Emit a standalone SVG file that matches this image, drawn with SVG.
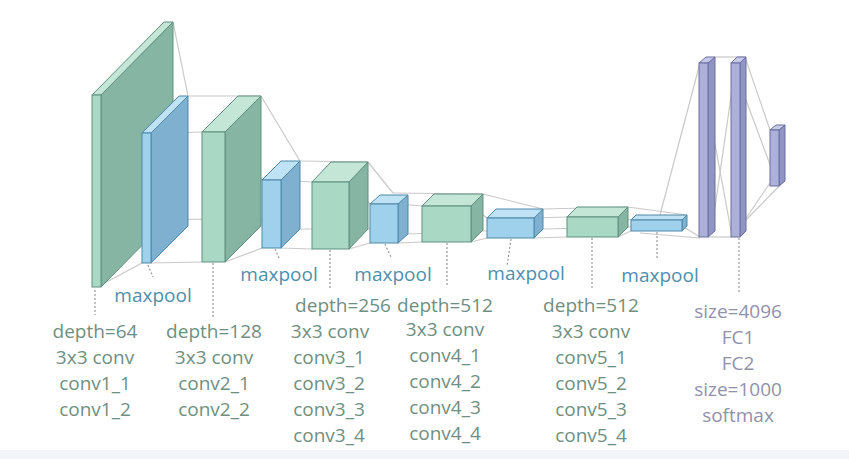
<svg xmlns="http://www.w3.org/2000/svg" width="849" height="459" viewBox="0 0 849 459">
<style>
.gf{fill:#a9d9c5;stroke:#5f8f80;stroke-width:1}
.gt{fill:#c3e6d6;stroke:#5f8f80;stroke-width:1}
.gs{fill:#86b6a3;stroke:#5f8f80;stroke-width:1}
.bf{fill:#9fd1ec;stroke:#4c88a8;stroke-width:1}
.bt{fill:#bfe2f4;stroke:#4c88a8;stroke-width:1}
.bs{fill:#7fb0d0;stroke:#4c88a8;stroke-width:1}
.pf{fill:#adb1da;stroke:#6a6ea0;stroke-width:1}
.pt{fill:#c6c9e8;stroke:#6a6ea0;stroke-width:1}
.ps{fill:#9095c4;stroke:#6a6ea0;stroke-width:1}
.cl{stroke:#c9c9c9;stroke-width:1.2;fill:none}
.ld{stroke:#9a9a9a;stroke-width:1.2;stroke-dasharray:2 2;fill:none}
text{font-family:"Open Sans","Liberation Sans",sans-serif;font-size:19px;text-anchor:middle}
.ct{fill:#6f8f83}
.mp{fill:#4f8fae}
.fc{fill:#9191ab}
</style>
<rect x="0" y="0" width="849" height="459" fill="#ffffff"/>
<rect x="0" y="450" width="849" height="9" fill="#f1f5fa"/>
<g id="connectors">
<!-- conv1 -> pool1 -->
<line class="cl" x1="173" y1="22" x2="188" y2="96"/>
<line class="cl" x1="101" y1="103" x2="142" y2="133"/>
<line class="cl" x1="101" y1="285" x2="142" y2="263"/>
<line class="cl" x1="173" y1="214" x2="188" y2="226"/>
<!-- pool1 -> conv2 -->
<line class="cl" x1="188" y1="96" x2="261" y2="96"/>
<line class="cl" x1="151" y1="133" x2="202" y2="132"/>
<line class="cl" x1="151" y1="263" x2="202" y2="262"/>
<line class="cl" x1="168" y1="219" x2="261" y2="220"/>
<!-- conv2 -> pool2 -->
<line class="cl" x1="261" y1="96" x2="300" y2="161"/>
<line class="cl" x1="225" y1="132" x2="262" y2="180"/>
<line class="cl" x1="225" y1="262" x2="262" y2="248"/>
<line class="cl" x1="261" y1="220" x2="300" y2="229"/>
<!-- pool2 -> conv3 -->
<line class="cl" x1="300" y1="161" x2="368" y2="162"/>
<line class="cl" x1="281" y1="180" x2="312" y2="182"/>
<line class="cl" x1="281" y1="248" x2="312" y2="249"/>
<line class="cl" x1="300" y1="229" x2="368" y2="229"/>
<!-- conv3 -> pool3 -->
<line class="cl" x1="368" y1="162" x2="393" y2="193"/>
<line class="cl" x1="349" y1="182" x2="370" y2="204"/>
<line class="cl" x1="349" y1="249" x2="370" y2="243"/>
<line class="cl" x1="368" y1="229" x2="408" y2="234"/>
<!-- pool3 -> conv4 -->
<line class="cl" x1="393" y1="193" x2="483" y2="194"/>
<line class="cl" x1="398" y1="204" x2="422" y2="206"/>
<line class="cl" x1="398" y1="243" x2="422" y2="242"/>
<line class="cl" x1="408" y1="234" x2="483" y2="231"/>
<!-- conv4 -> pool4 -->
<line class="cl" x1="483" y1="194" x2="543" y2="209"/>
<line class="cl" x1="471" y1="206" x2="487" y2="218"/>
<line class="cl" x1="471" y1="242" x2="487" y2="238"/>
<line class="cl" x1="483" y1="231" x2="543" y2="229"/>
<!-- pool4 -> conv5 -->
<line class="cl" x1="543" y1="209" x2="628" y2="207"/>
<line class="cl" x1="534" y1="218" x2="567" y2="217"/>
<line class="cl" x1="534" y1="238" x2="567" y2="237"/>
<line class="cl" x1="543" y1="229" x2="628" y2="227"/>
<!-- conv5 -> pool5 -->
<line class="cl" x1="628" y1="207" x2="687" y2="215"/>
<line class="cl" x1="618" y1="217" x2="631" y2="220"/>
<line class="cl" x1="618" y1="237" x2="631" y2="231"/>
<line class="cl" x1="628" y1="227" x2="687" y2="226"/>
<!-- pool5 -> FC1 -->
<line class="cl" x1="660" y1="215" x2="700" y2="63"/>
<line class="cl" x1="682" y1="226" x2="700" y2="237"/>
<line class="cl" x1="640" y1="233" x2="700" y2="238"/>
<!-- FC1 -> FC2 -->
<line class="cl" x1="715" y1="57" x2="746" y2="57"/>
<line class="cl" x1="708" y1="237" x2="731" y2="237"/>
<line class="cl" x1="710" y1="117" x2="732" y2="236"/>
<line class="cl" x1="712" y1="228" x2="732" y2="90"/>
<!-- FC2 -> FC3 -->
<line class="cl" x1="746" y1="60" x2="770" y2="130"/>
<line class="cl" x1="746" y1="100" x2="772" y2="170"/>
<line class="cl" x1="740" y1="227" x2="770" y2="183"/>
<line class="cl" x1="746" y1="220" x2="784" y2="181"/>
<!-- leaders -->
<line class="ld" x1="95" y1="290" x2="95" y2="315"/>
<line class="ld" x1="213" y1="263" x2="213" y2="317"/>
<line class="ld" x1="148" y1="265" x2="153" y2="277"/>
<line class="ld" x1="275" y1="249" x2="279" y2="258"/>
<line class="ld" x1="330" y1="250" x2="330" y2="288"/>
<line class="ld" x1="385" y1="244" x2="391" y2="257"/>
<line class="ld" x1="447" y1="243" x2="447" y2="285"/>
<line class="ld" x1="511" y1="239" x2="507" y2="266"/>
<line class="ld" x1="592" y1="238" x2="592" y2="288"/>
<line class="ld" x1="657" y1="232" x2="657" y2="259"/>
<line class="ld" x1="739" y1="238" x2="739" y2="293"/>
</g>
<g id="conv1">
<polygon class="gs" points="101,95 173,22 173,214 101,287"/>
<polygon class="gt" points="92,95 164,22 173,22 101,95"/>
<rect class="gf" x="92" y="95" width="9" height="192"/>
</g>
<g id="pool1">
<polygon class="bs" points="151,133 188,96 188,226 151,263"/>
<polygon class="bt" points="142,133 179,96 188,96 151,133"/>
<rect class="bf" x="142" y="133" width="9" height="130"/>
</g>
<g id="conv2">
<polygon class="gs" points="225,132 261,96 261,226 225,262"/>
<polygon class="gt" points="202,132 238,96 261,96 225,132"/>
<rect class="gf" x="202" y="132" width="23" height="130"/>
</g>
<g id="pool2">
<polygon class="bs" points="281,180 300,161 300,229 281,248"/>
<polygon class="bt" points="262,180 281,161 300,161 281,180"/>
<rect class="bf" x="262" y="180" width="19" height="68"/>
</g>
<g id="conv3">
<polygon class="gs" points="349,182 368,162 368,229 349,249"/>
<polygon class="gt" points="312,182 331,162 368,162 349,182"/>
<rect class="gf" x="312" y="182" width="37" height="67"/>
</g>
<g id="pool3">
<polygon class="bs" points="398,204 408,195 408,234 398,243"/>
<polygon class="bt" points="370,204 380,195 408,195 398,204"/>
<rect class="bf" x="370" y="204" width="28" height="39"/>
</g>
<g id="conv4">
<polygon class="gs" points="471,206 483,194 483,230 471,242"/>
<polygon class="gt" points="422,206 434,194 483,194 471,206"/>
<rect class="gf" x="422" y="206" width="49" height="36"/>
</g>
<g id="pool4">
<polygon class="bs" points="534,218 543,209 543,229 534,238"/>
<polygon class="bt" points="487,218 496,209 543,209 534,218"/>
<rect class="bf" x="487" y="218" width="47" height="20"/>
</g>
<g id="conv5">
<polygon class="gs" points="618,217 628,207 628,227 618,237"/>
<polygon class="gt" points="567,217 577,207 628,207 618,217"/>
<rect class="gf" x="567" y="217" width="51" height="20"/>
</g>
<g id="pool5">
<polygon class="bs" points="682,220 687,215 687,226 682,231"/>
<polygon class="bt" points="631,220 636,215 687,215 682,220"/>
<rect class="bf" x="631" y="220" width="51" height="11"/>
</g>
<g id="fc1">
<polygon class="ps" points="708,63 715,57 715,231 708,237"/>
<polygon class="pt" points="699,63 706,57 715,57 708,63"/>
<rect class="pf" x="699" y="63" width="9" height="174"/>
</g>
<g id="fc2">
<polygon class="ps" points="740,63 746,57 746,231 740,237"/>
<polygon class="pt" points="731,63 737,57 746,57 740,63"/>
<rect class="pf" x="731" y="63" width="9" height="174"/>
</g>
<g id="fc3">
<polygon class="ps" points="779,130 785,125 785,181 779,186"/>
<polygon class="pt" points="770,130 776,125 785,125 779,130"/>
<rect class="pf" x="770" y="130" width="9" height="56"/>
</g>
<g id="labels-maxpool">
<text class="mp" x="153" y="302">maxpool</text>
<text class="mp" x="279" y="281">maxpool</text>
<text class="mp" x="393" y="281">maxpool</text>
<text class="mp" x="526" y="280">maxpool</text>
<text class="mp" x="660" y="282">maxpool</text>
</g>
<g id="label-conv1">
<text class="ct" x="95" y="338">depth=64</text>
<text class="ct" x="95" y="364">3x3 conv</text>
<text class="ct" x="95" y="390">conv1_1</text>
<text class="ct" x="95" y="416">conv1_2</text>
</g>
<g id="label-conv2">
<text class="ct" x="214" y="338">depth=128</text>
<text class="ct" x="214" y="364">3x3 conv</text>
<text class="ct" x="214" y="390">conv2_1</text>
<text class="ct" x="214" y="416">conv2_2</text>
</g>
<g id="label-conv3">
<text class="ct" x="343" y="312">depth=256</text>
<text class="ct" x="330" y="338">3x3 conv</text>
<text class="ct" x="329" y="364">conv3_1</text>
<text class="ct" x="329" y="390">conv3_2</text>
<text class="ct" x="329" y="416">conv3_3</text>
<text class="ct" x="329" y="442">conv3_4</text>
</g>
<g id="label-conv4">
<text class="ct" x="445" y="312">depth=512</text>
<text class="ct" x="445" y="336">3x3 conv</text>
<text class="ct" x="445" y="362">conv4_1</text>
<text class="ct" x="445" y="388">conv4_2</text>
<text class="ct" x="445" y="414">conv4_3</text>
<text class="ct" x="445" y="440">conv4_4</text>
</g>
<g id="label-conv5">
<text class="ct" x="591" y="312">depth=512</text>
<text class="ct" x="591" y="338">3x3 conv</text>
<text class="ct" x="591" y="364">conv5_1</text>
<text class="ct" x="591" y="390">conv5_2</text>
<text class="ct" x="591" y="416">conv5_3</text>
<text class="ct" x="591" y="442">conv5_4</text>
</g>
<g id="label-fc">
<text class="fc" x="738" y="318">size=4096</text>
<text class="fc" x="738" y="344">FC1</text>
<text class="fc" x="738" y="370">FC2</text>
<text class="fc" x="738" y="396">size=1000</text>
<text class="fc" x="738" y="422">softmax</text>
</g>
</svg>
